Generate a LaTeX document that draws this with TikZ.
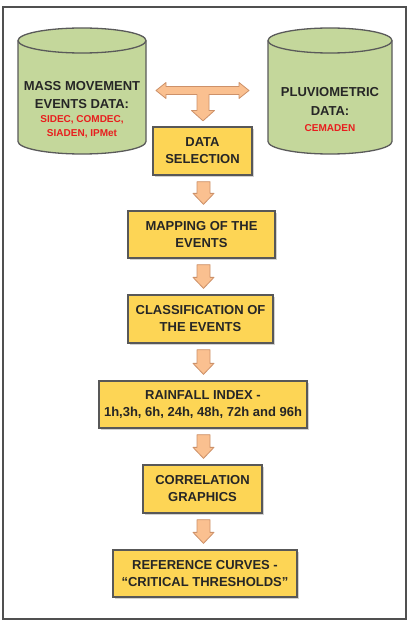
\documentclass[tikz,border=0pt]{standalone}
\usepackage{fontspec}
\setmainfont{Liberation Sans}
\usetikzlibrary{calc,shadows}
\definecolor{boxfill}{RGB}{253,213,85}
\definecolor{boxline}{RGB}{88,88,88}
\definecolor{cylfill}{RGB}{196,215,155}
\definecolor{cylline}{RGB}{90,90,90}
\definecolor{arrfill}{RGB}{250,192,144}
\definecolor{arrline}{RGB}{205,145,105}
\definecolor{redtxt}{RGB}{232,30,30}
\definecolor{txt}{RGB}{38,38,38}
\definecolor{frameline}{RGB}{80,80,80}
\tikzset{
  flowbox/.style={draw=boxline, line width=1.3pt, fill=boxfill, align=center,
    font=\bfseries\fontsize{13}{17}\selectfont, text=txt, inner sep=0pt,
    drop shadow={shadow xshift=1.5pt, shadow yshift=-1.5pt, opacity=0.35}},
  cylbody/.style={draw=cylline, line width=1.3pt, fill=cylfill},
  cyltitle/.style={align=center, font=\bfseries\fontsize{13}{17.5}\selectfont, text=txt, inner sep=0pt},
  cylred/.style={align=center, font=\bfseries\fontsize{10}{14}\selectfont, text=redtxt, inner sep=0pt},
  blockarrow/.style={fill=arrfill, draw=arrline, line width=0.8pt, line join=round},
  outerframe/.style={draw=frameline, line width=2pt}
}
\newcommand\flowarrow[2]{%
  \path[blockarrow] let \p1=(#1.south), \p2=(#2.north), \p3=(axis) in
  (\x3-6.5pt,\y1-6pt) -- (\x3+6.5pt,\y1-6pt) -- (\x3+6.5pt,\y2+17pt) --
  (\x3+10.5pt,\y2+17pt) -- (\x3,\y2+6pt) -- (\x3-10.5pt,\y2+17pt) --
  (\x3-6.5pt,\y2+17pt) -- cycle;}
\begin{document}
\begin{tikzpicture}[x=1pt,y=-1pt]
\useasboundingbox (0,0) rectangle (409,623);
\fill[white] (0,0) rectangle (409,623);
\draw[outerframe] (3,7) rectangle (406,619);
\coordinate (axis) at (203.5,0);

% left cylinder
\filldraw[cylbody] (18,40.5) -- (18,141.5)
  arc[start angle=180, end angle=360, x radius=64pt, y radius=12.5pt]
  -- (146,40.5)
  arc[start angle=0, end angle=180, x radius=64pt, y radius=12.5pt] -- cycle;
\draw[cylbody, fill=none] (18,40.5)
  arc[start angle=180, end angle=360, x radius=64pt, y radius=12.5pt];
\node[cyltitle] (mass) at (82,95) {MASS MOVEMENT\\EVENTS DATA:};
\node[cylred] (massred) at (82,126.5) {SIDEC, COMDEC,\\SIADEN, IPMet};

% right cylinder
\filldraw[cylbody] (268,40.5) -- (268,141.5)
  arc[start angle=180, end angle=360, x radius=62pt, y radius=12.5pt]
  -- (392,40.5)
  arc[start angle=0, end angle=180, x radius=62pt, y radius=12.5pt] -- cycle;
\draw[cylbody, fill=none] (268,40.5)
  arc[start angle=180, end angle=360, x radius=62pt, y radius=12.5pt];
\node[cyltitle, font=\bfseries\fontsize{13}{18.5}\selectfont] (pluvio) at (330,101.5) {PLUVIOMETRIC\\DATA:};
\node[cylred] (pluviored) at (330,128) {CEMADEN};

% boxes
\node[flowbox, minimum width=99, minimum height=48] (dsel) at (202.5,151) {DATA\\SELECTION};
\node[flowbox, minimum width=147, minimum height=47] (map) at (201.5,234.5) {MAPPING OF THE\\EVENTS};
\node[flowbox, minimum width=145, minimum height=48] (cls) at (200.5,319) {CLASSIFICATION OF\\THE EVENTS};
\node[flowbox, minimum width=208, minimum height=47] (rain) at (203,404.5) {RAINFALL INDEX -\\1h,3h, 6h, 24h, 48h, 72h and 96h};
\node[flowbox, minimum width=119, minimum height=48] (corr) at (202.5,489) {CORRELATION\\GRAPHICS};
\node[flowbox, minimum width=184, minimum height=47] (ref) at (205,573.5) {REFERENCE CURVES -\\“CRITICAL THRESHOLDS”};

% T-shaped arrow between the data sources and data selection
\coordinate (tleft) at (156,90.5);
\coordinate (tright) at (249,90.5);
\coordinate (tdown) at ($(dsel.north)+(0.5,-5.5)$);
\path[blockarrow] (tleft) -- (166,82.5) -- (166,86.5) -- (239,86.5) -- (239,82.5)
  -- (tright) -- (239,98.5) -- (239,94.5) -- (209,94.5) -- (209,110.5)
  -- (214.5,110.5) -- (tdown) -- (191.5,110.5) -- (197,110.5) -- (197,94.5)
  -- (166,94.5) -- (166,98.5) -- cycle;

% flow arrows
\flowarrow{dsel}{map}
\flowarrow{map}{cls}
\flowarrow{cls}{rain}
\flowarrow{rain}{corr}
\flowarrow{corr}{ref}
\end{tikzpicture}
\end{document}
